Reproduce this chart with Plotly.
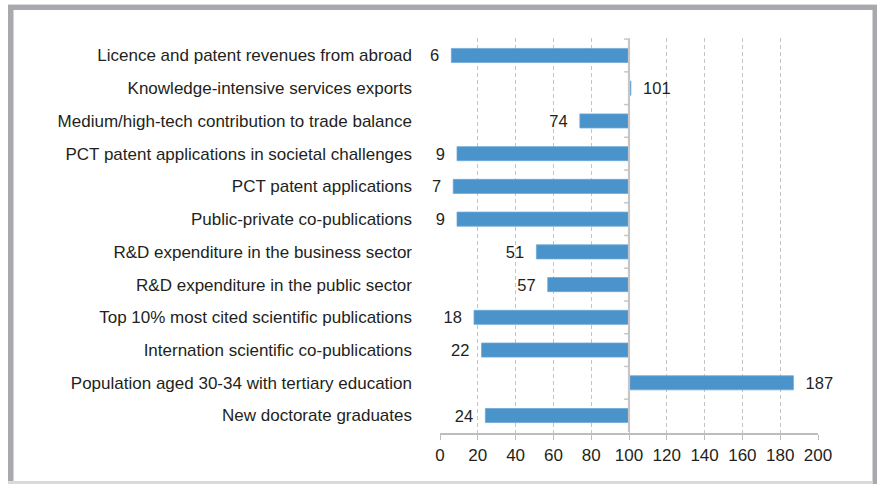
import plotly.graph_objects as go

categories = [
    "Licence and patent revenues from abroad",
    "Knowledge-intensive services exports",
    "Medium/high-tech contribution to trade balance",
    "PCT patent applications in societal challenges",
    "PCT patent applications",
    "Public-private co-publications",
    "R&D expenditure in the business sector",
    "R&D expenditure in the public sector",
    "Top 10% most cited scientific publications",
    "Internation scientific co-publications",
    "Population aged 30-34 with tertiary education",
    "New doctorate graduates",
]
values = [6, 101, 74, 9, 7, 9, 51, 57, 18, 22, 187, 24]
baseline = 100
x_ticks = [0, 20, 40, 60, 80, 100, 120, 140, 160, 180, 200]

W, H = 877, 484
plot_l, plot_r, plot_t, plot_b = 440, 818, 38, 433

NB = "\u00a0"
texts = [(f"{v}{NB*2}" if v < baseline else f"{NB*2}{v}") for v in values]

fig = go.Figure()
fig.add_trace(go.Bar(
    y=categories,
    x=[v - baseline for v in values],
    base=baseline,
    orientation="h",
    width=0.43,
    marker=dict(color="#4a93cb", line=dict(color="#6ea8d6", width=0.8)),
    text=texts,
    textposition="outside",
    constraintext="none",
    cliponaxis=False,
    textfont=dict(family="Liberation Sans, Arial", size=16.5, color="#231f20"),
    hoverinfo="skip",
))

shapes = []
shapes.append(dict(type="line", xref="x", yref="y", x0=baseline, x1=baseline,
                   y0=-0.5, y1=len(categories) - 0.5,
                   line=dict(color="#c6c6c6", width=2.2), layer="above"))
for i in range(len(categories)):
    shapes.append(dict(type="line", xref="x", yref="y", x0=baseline - 2.6, x1=baseline,
                       y0=i - 0.5, y1=i - 0.5,
                       line=dict(color="#c6c6c6", width=1.5), layer="above"))

def px_x(p):
    return p / W

def px_y(p):
    return 1 - p / H

frame_col = "#a7a9ac"
shapes += [
    dict(type="rect", xref="paper", yref="paper", x0=px_x(8), x1=px_x(877), y0=px_y(4), y1=px_y(5),
         fillcolor="#dcdcdc", line=dict(width=0), layer="above"),
    dict(type="rect", xref="paper", yref="paper", x0=px_x(8), x1=px_x(877), y0=px_y(5), y1=px_y(10),
         fillcolor=frame_col, line=dict(width=0), layer="above"),
    dict(type="rect", xref="paper", yref="paper", x0=px_x(8), x1=px_x(13.5), y0=px_y(5), y1=px_y(481),
         fillcolor=frame_col, line=dict(width=0), layer="above"),
    dict(type="rect", xref="paper", yref="paper", x0=px_x(872.5), x1=px_x(877), y0=px_y(5), y1=px_y(484),
         fillcolor=frame_col, line=dict(width=0), layer="above"),
    dict(type="rect", xref="paper", yref="paper", x0=px_x(8), x1=px_x(872.5), y0=px_y(481), y1=px_y(484),
         fillcolor="#dadada", line=dict(width=0), layer="above"),
]

fig.update_layout(
    width=W, height=H,
    autosize=False,
    margin=dict(l=0, r=0, t=0, b=0, autoexpand=False),
    paper_bgcolor="white",
    plot_bgcolor="white",
    showlegend=False,
    shapes=shapes,
    font=dict(family="Liberation Sans, Arial", color="#231f20"),
    xaxis=dict(
        domain=[plot_l / W, plot_r / W],
        range=[0, 200],
        tickvals=x_ticks,
        ticktext=[str(t) for t in x_ticks],
        showgrid=True,
        gridcolor="#c4c4c4",
        gridwidth=1,
        griddash="4px,3px",
        zeroline=False,
        showline=True,
        linecolor="#bdbdbd",
        linewidth=1.5,
        ticks="outside",
        ticklen=5,
        tickcolor="#bdbdbd",
        tickwidth=1.2,
        tickfont=dict(size=17, color="#231f20"),
        ticklabelstandoff=1,
        automargin=False,
        fixedrange=True,
    ),
    yaxis=dict(
        domain=[1 - plot_b / H, 1 - plot_t / H],
        type="category",
        categoryorder="array",
        categoryarray=categories,
        autorange="reversed",
        showgrid=False,
        zeroline=False,
        showline=False,
        ticks="",
        tickfont=dict(size=17, color="#231f20"),
        ticklabelstandoff=27,
        automargin=False,
        fixedrange=True,
    ),
)

fig.write_html(
    "out.html",
    config={"responsive": False, "displayModeBar": False},
    post_script="document.body.style.margin='0';document.body.style.overflow='hidden';",
)
